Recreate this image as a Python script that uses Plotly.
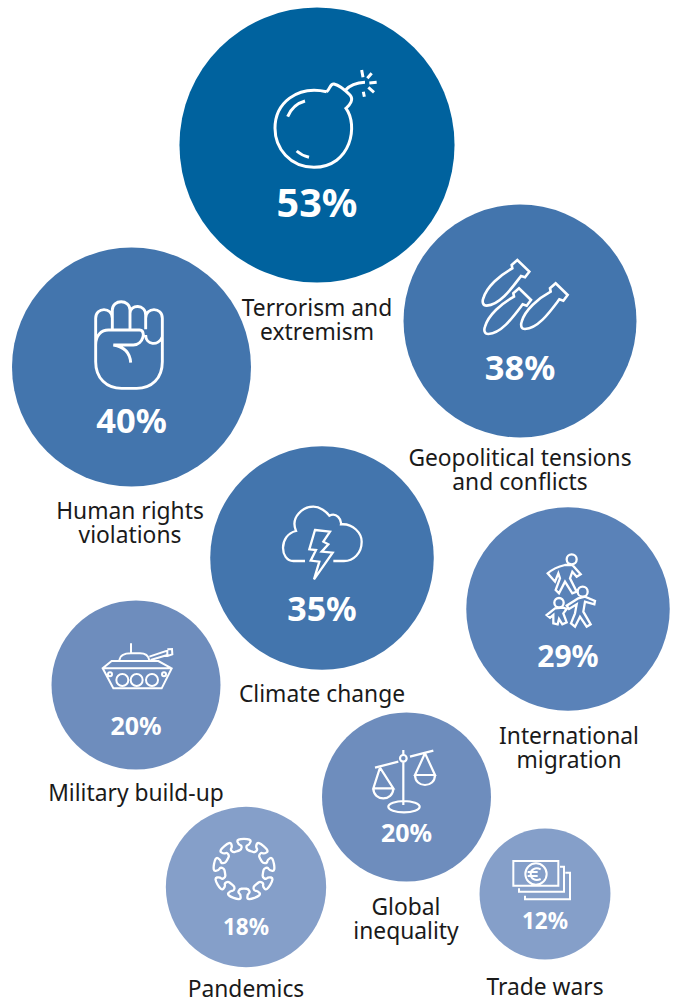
import math
import re
import plotly.graph_objects as go

# Survey results
categories = ["Terrorism and\nextremism", "Geopolitical tensions\nand conflicts", "Human rights\nviolations",
              "Climate change", "International\nmigration", "Military build-up",
              "Global\ninequality", "Pandemics", "Trade wars"]
values = [53, 38, 40, 35, 29, 20, 20, 18, 12]

# Hand-packed bubble layout, in page pixels
centre_x = [317, 520, 131.5, 322, 568, 136, 406.5, 246, 545]
centre_y = [145, 321, 367, 558, 609, 685, 797, 887, 894]
bubble_colours = ["#00629E", "#4375AD", "#4375AD", "#4375AD", "#5A82B8", "#6E8DBD", "#6E8DBD", "#859FC9", "#859FC9"]
pct_y = [201.5, 366.5, 419.5, 607.5, 655, 725, 832, 926, 920]
pct_size = [39.5, 34.5, 34.5, 34, 30, 25, 25, 22.5, 22.5]
label_x = [317, 520, 130, 322, 569, 136, 406, 246, 545]
label_y = [319, 469, 522, 693, 747, 792, 918, 988, 986]

FONT = "Noto Sans"
INK = "#1A1A1A"
BASELINE_SHIFT = 0.14  # text traces sit high by this share of the font size
fig = go.Figure()
fig.add_trace(go.Scatter(
    x=centre_x, y=centre_y, mode="markers", hoverinfo="skip",
    marker=dict(size=values, sizemode="area", sizeref=1 / (2 * 357), color=bubble_colours,
                opacity=1, line=dict(width=0)),
))


def place(path, ox, oy, s=1 / 3):
    """Map a path drawn on a 3x grid to page pixels at origin (ox, oy)."""
    idx = [0]

    def sub(m):
        v = float(m.group())
        out = (ox if idx[0] % 2 == 0 else oy) + v * s
        idx[0] += 1
        return f"{out:.2f}"

    return re.sub(r"-?\d+(?:\.\d+)?", sub, path)


def ring(cx, cy, rx, ry=None):
    """Closed ellipse as four cubic segments."""
    ry = rx if ry is None else ry
    k = 0.5523
    return (f"M {cx - rx},{cy} C {cx - rx},{cy - k * ry} {cx - k * rx},{cy - ry} {cx},{cy - ry} "
            f"C {cx + k * rx},{cy - ry} {cx + rx},{cy - k * ry} {cx + rx},{cy} "
            f"C {cx + rx},{cy + k * ry} {cx + k * rx},{cy + ry} {cx},{cy + ry} "
            f"C {cx - k * rx},{cy + ry} {cx - rx},{cy + k * ry} {cx - rx},{cy} Z ")


def glyph(path, ox, oy, width=2.0):
    fig.add_shape(type="path", path=place(path, ox, oy), xref="x", yref="y", layer="above",
                  line=dict(color="white", width=width), fillcolor="rgba(0,0,0,0)")


# Bomb
glyph("M 230,125 C 240,118 240,100 252,102 C 265,105 285,120 300,135 C 312,148 300,165 288,175 "
      "C 325,225 305,350 192,352 C 120,352 75,295 75,235 C 75,160 140,105 230,125 "
      "M 284,122 C 300,105 320,98 345,97 "
      "M 335,60 L 339,82 M 365,70 L 352,85 M 380,97 L 358,99 M 372,127 L 355,112 M 343,140 L 340,125 "
      "M 113,200 C 122,178 140,160 165,153 M 140,303 C 150,312 165,319 177,322", 250, 50, 3.0)

# Three bombs, same outline at different offsets
BOMB = "M 298,118 C 270,155 235,205 195,207 C 183,207 181,195 185,185 C 195,150 235,115 272,95 " \
       "L 270,85 L 287,70 L 323,105 L 310,122 L 298,118 Z "
for dx, dy in ((0, 0), (-110, 15), (-115, -70)):
    glyph(BOMB, 460 + dx / 3, 260 + dy / 3, 2.6)

# Fist
glyph("M 47,165 L 47,85 C 47,50 97,50 97,85 L 97,118 M 97,85 L 97,60 C 97,27 150,27 150,60 L 150,118 "
      "M 150,70 C 150,42 197,42 197,75 L 197,118 M 197,85 C 197,50 247,50 247,85 L 247,215 "
      "C 247,265 215,295 170,295 L 125,295 C 80,295 47,265 47,215 L 47,165 C 47,135 65,120 85,120 L 178,120 "
      "C 200,120 190,165 160,165 L 100,165 C 130,170 150,185 152,218 "
      "M 197,135 C 197,165 235,170 247,140", 80, 290, 2.9)

# Storm cloud and lightning bolt
glyph("M 105,198 L 70,198 C 30,198 25,120 78,108 C 60,65 100,35 130,35 C 150,35 170,50 178,62 "
      "C 200,50 215,75 213,88 C 250,85 275,115 275,140 C 275,175 250,198 222,198 L 190,198 "
      "M 135,105 L 180,110 L 160,140 L 175,148 L 155,170 L 188,173 L 132,253 L 148,200 L 122,197 L 138,165 L 118,163 Z",
      270, 495, 2.3)

# Migrants: running adult, adult with child
glyph(ring(110, 43, 15) + ring(143, 140, 15) + ring(72, 173, 14) +
      "M 90,60 C 70,65 55,70 38,85 L 60,110 L 70,85 L 75,100 L 62,135 L 72,145 L 90,110 L 112,145 L 125,140 "
      "L 105,100 L 112,80 L 125,95 L 137,88 L 112,60 Z "
      "M 130,160 L 95,182 L 102,192 L 125,178 L 120,205 L 108,235 L 120,245 L 135,215 L 155,245 L 167,238 "
      "L 145,200 L 150,170 L 178,178 L 180,168 L 150,155 Z "
      "M 60,190 L 35,210 L 45,218 L 55,210 L 55,235 L 68,238 L 72,222 L 82,238 L 95,232 L 85,205 L 95,192 L 85,188 Z",
      535, 545, 2.3)

# Tank
glyph("M 123,25 L 123,55 M 88,75 C 90,60 105,55 123,55 L 150,55 C 165,55 175,62 178,75 "
      "M 178,65 L 232,47 L 232,60 L 182,75 M 232,43 L 246,42 L 247,58 L 232,63 "
      "M 65,78 L 205,78 L 245,100 L 215,160 L 70,160 L 38,100 Z M 38,100 L 245,100 " +
      ring(97, 135, 18) + ring(140, 135, 18) + ring(186, 135, 18) + ring(60, 118, 6) + ring(222, 118, 6),
      90, 635, 2.0)

# Balance scale
glyph("M 30,68 L 100,50 M 135,35 L 205,17 M 115,15 L 115,28 M 115,52 L 115,180 " + ring(115, 40, 10) +
      ring(117, 185, 47, 17) +
      "M 45,68 L 25,130 L 85,130 L 45,68 M 25,130 C 25,170 85,170 85,130 "
      "M 180,25 L 150,90 L 210,90 L 180,25 M 150,90 C 150,130 210,130 210,90", 365, 745, 2.2)

# Virus: ring with nine capped spikes, corners rounded through edge midpoints
VIRUS_CX, VIRUS_CY, SPIKES = 117, 103, 9
SPIKE_PROFILE = ((58, -0.30), (60, -0.13), (72, -0.09), (76, -0.22), (94, -0.24),
                 (94, 0.24), (76, 0.22), (72, 0.09), (60, 0.13), (58, 0.30))
pts = []
for i in range(SPIKES):
    a = -math.pi / 2 + i * 2 * math.pi / SPIKES
    for rad, off in SPIKE_PROFILE:
        pts.append((VIRUS_CX + rad * math.cos(a + off), VIRUS_CY + rad * math.sin(a + off)))
mids = [((pts[i][0] + pts[(i + 1) % len(pts)][0]) / 2, (pts[i][1] + pts[(i + 1) % len(pts)][1]) / 2)
        for i in range(len(pts))]
virus = f"M {mids[-1][0]:.1f},{mids[-1][1]:.1f} "
for p, m in zip(pts, mids):
    virus += f"Q {p[0]:.1f},{p[1]:.1f} {m[0]:.1f},{m[1]:.1f} "
glyph(virus + "Z", 205, 835, 2.3)

# Banknotes
glyph("M 25,33 L 160,33 L 160,107 L 25,107 Z M 165,50 L 177,50 L 177,125 L 42,125 L 42,115 "
      "M 181,68 L 195,68 L 195,148 L 60,148 L 60,137 " + ring(93, 72, 32) +
      "M 107,58 C 90,50 77,60 77,72 C 77,85 90,95 107,87 M 68,66 L 98,66 M 68,78 L 98,78", 505, 850, 2.0)

# Percentages inside the bubbles
for v, x, y, s in zip(values, centre_x, pct_y, pct_size):
    fig.add_trace(go.Scatter(x=[x], y=[y + BASELINE_SHIFT * s], mode="text", text=[f"<b>{v}%</b>"],
                             textposition="middle center", cliponaxis=False, hoverinfo="skip",
                             textfont=dict(family=FONT, size=s, color="white")))

# Category names, one text per line for tight leading
LABEL_SIZE = 22.8
LEADING = 24.5
line_x, line_y, line_text = [], [], []
for name, x, y in zip(categories, label_x, label_y):
    lines = name.split("\n")
    for i, line in enumerate(lines):
        line_x.append(x)
        line_y.append(y + (i - (len(lines) - 1) / 2) * LEADING + BASELINE_SHIFT * LABEL_SIZE)
        line_text.append(line)
fig.add_trace(go.Scatter(x=line_x, y=line_y, mode="text", text=line_text, textposition="middle center",
                         cliponaxis=False, hoverinfo="skip",
                         textfont=dict(family=FONT, size=LABEL_SIZE, color=INK)))

fig.update_layout(
    width=678, height=998, margin=dict(l=0, r=0, t=0, b=0), showlegend=False,
    paper_bgcolor="white", plot_bgcolor="white",
    xaxis=dict(range=[0, 678], visible=False, fixedrange=True),
    yaxis=dict(range=[998, 0], visible=False, fixedrange=True),
)
fig.write_html("out.html", config=dict(displayModeBar=False))
